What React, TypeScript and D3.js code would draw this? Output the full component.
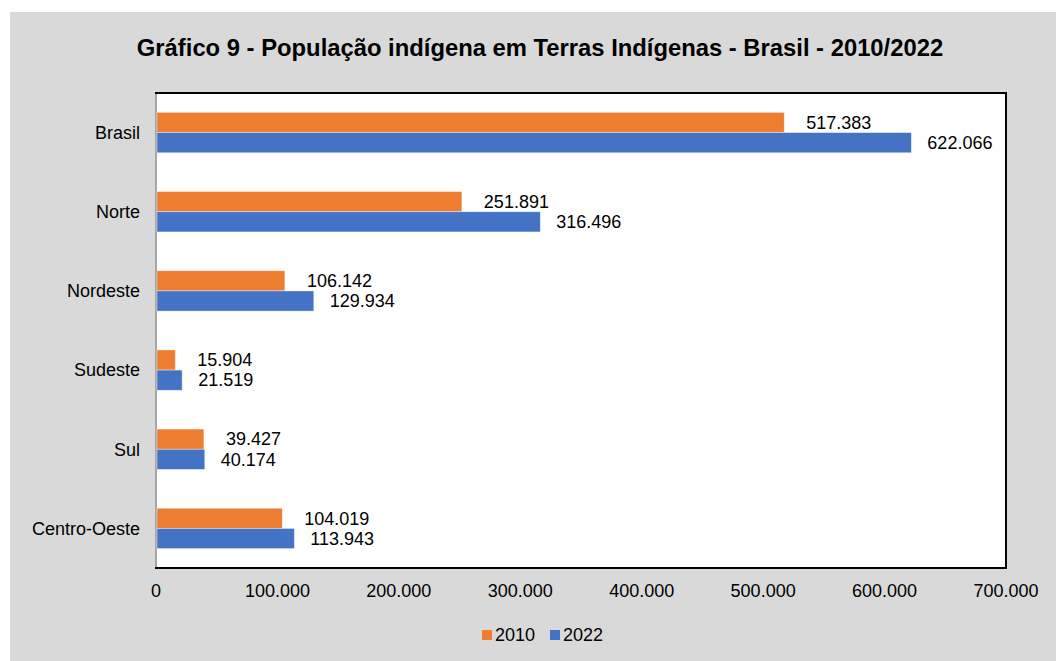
import React from "react";
import * as d3 from "d3";

// Population data
const regions = ["Brasil", "Norte", "Nordeste", "Sudeste", "Sul", "Centro-Oeste"];
const pop2010 = [517383, 251891, 106142, 15904, 39427, 104019];
const pop2022 = [622066, 316496, 129934, 21519, 40174, 113943];
const seriesNames = ["2010", "2022"];
const xTicks = [0, 100000, 200000, 300000, 400000, 500000, 600000, 700000];

const colors = ["#ED7D31", "#4472C4"];
const fmt = (v: number) => d3.format(",")(v).replace(/,/g, ".");

export default function App() {
  const width = 1056;
  const height = 661;
  const plot = { left: 156, top: 93, right: 1006, bottom: 568 };

  const x = d3.scaleLinear().domain([0, 700000]).range([plot.left, plot.right]);
  const y = d3
    .scaleBand()
    .domain(regions)
    .range([plot.top, plot.bottom])
    .paddingInner(0.49)
    .paddingOuter(0.245);
  const sub = d3.scaleBand().domain(seriesNames).range([0, y.bandwidth()]);

  const series = [pop2010, pop2022];
  const labelOffset = [22, 16];
  const font = "'Liberation Sans', Arial, sans-serif";

  return (
    <svg
      width={width}
      height={height}
      style={{ position: "absolute", left: 0, top: 0, fontFamily: font }}
    >
      <rect x={0} y={0} width={width} height={height} fill="#ffffff" />
      <rect x={10} y={12} width={width - 10} height={height - 12} fill="#D9D9D9" />

      <text x={540} y={56} textAnchor="middle" fontSize={23.8} fontWeight="bold" fill="#000">
        Gráfico 9 - População indígena em Terras Indígenas - Brasil - 2010/2022
      </text>

      {/* plot area */}
      <rect
        x={plot.left}
        y={plot.top}
        width={plot.right - plot.left}
        height={plot.bottom - plot.top}
        fill="#ffffff"
        stroke="#000"
        strokeWidth={2}
      />
      <line x1={plot.left} x2={plot.left} y1={plot.top + 1} y2={plot.bottom - 1} stroke="#A6A6A6" strokeWidth={2} />

      {/* bars */}
      {regions.map((r, i) => (
        <g key={r}>
          {series.map((s, k) => {
            const by = (y(r) as number) + (sub(seriesNames[k]) as number);
            const bh = sub.bandwidth();
            return (
              <g key={k}>
                <rect
                  x={x(0) + 1}
                  y={by}
                  width={x(s[i]) - x(0) - 1}
                  height={bh}
                  fill={colors[k]}
                  stroke="#ffffff"
                  strokeOpacity={0.5}
                  strokeWidth={0.8}
                />
                <text
                  x={x(s[i]) + labelOffset[k]}
                  y={by + bh / 2}
                  dy="0.35em"
                  fontSize={18}
                  fill="#000"
                >
                  {fmt(s[i])}
                </text>
              </g>
            );
          })}
          <text
            x={140}
            y={(y(r) as number) + y.bandwidth() / 2}
            dy="0.35em"
            textAnchor="end"
            fontSize={18}
            fill="#000"
          >
            {r}
          </text>
        </g>
      ))}

      {/* x tick labels */}
      {xTicks.map((t) => (
        <text key={t} x={x(t)} y={591} dy="0.35em" textAnchor="middle" fontSize={18} fill="#000">
          {fmt(t)}
        </text>
      ))}

      {/* legend */}
      {seriesNames.map((n, k) => (
        <g key={n} transform={`translate(${482 + k * 68}, 635)`}>
          <rect x={0} y={-5} width={10} height={10} fill={colors[k]} />
          <text x={13} y={0} dy="0.35em" fontSize={18} fill="#000">
            {n}
          </text>
        </g>
      ))}
    </svg>
  );
}
